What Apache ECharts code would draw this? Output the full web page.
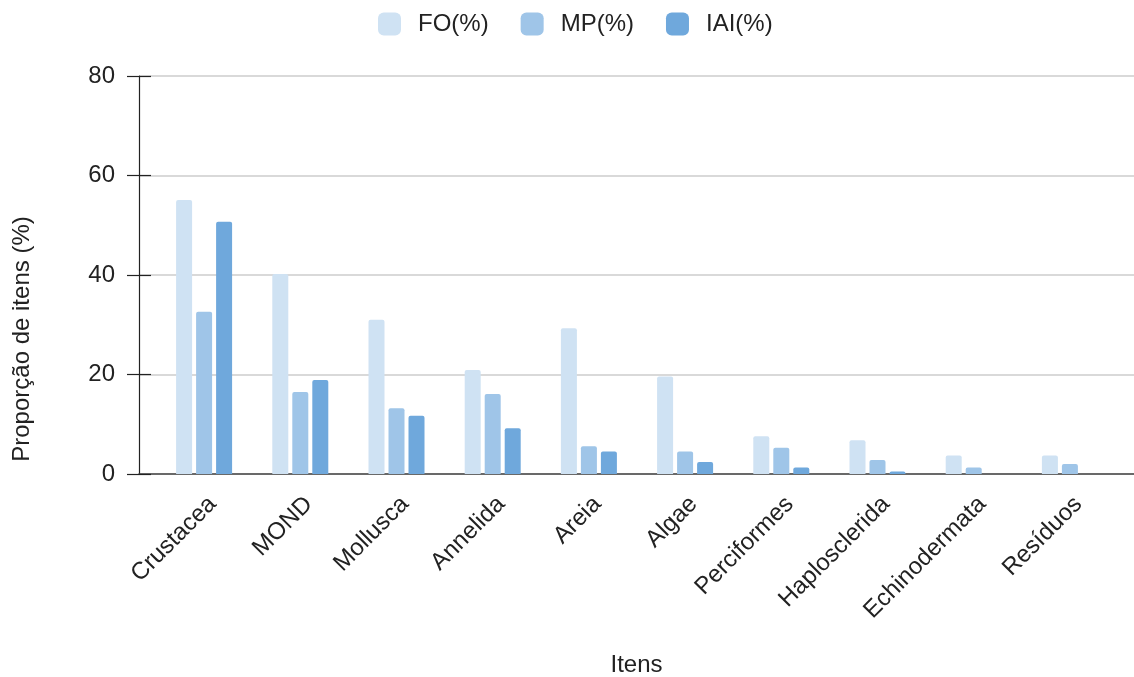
<!DOCTYPE html>
<html>
<head>
<meta charset="utf-8">
<style>
  html, body { margin: 0; padding: 0; background: #fff; }
  #chart { width: 1134px; height: 677px; }
</style>
<script src="https://cdn.jsdelivr.net/npm/echarts@6/dist/echarts.min.js"></script>
</head>
<body>
<div id="chart"></div>
<script>
// Diet items and their indices (%)
const categories = ['Crustacea', 'MOND', 'Mollusca', 'Annelida', 'Areia', 'Algae',
  'Perciformes', 'Haplosclerida', 'Echinodermata', 'Resíduos'];
const foValues  = [55.1, 40.2, 31.0, 20.9, 29.3, 19.6, 7.6, 6.8, 3.7, 3.7];
const mpValues  = [32.6, 16.5, 13.2, 16.1, 5.6, 4.5, 5.3, 2.8, 1.3, 2.0];
const iaiValues = [50.7, 18.9, 11.7, 9.2, 4.5, 2.4, 1.3, 0.5, 0, 0];
const seriesNames = ['FO(%)', 'MP(%)', 'IAI(%)'];
const yTicks = [0, 20, 40, 60, 80];

const colors = ['#cfe2f3', '#9fc5e8', '#6fa8dc'];
const FONT = '"Liberation Sans", Arial, sans-serif';
const FS = 24;
const TEXT = '#222';

const chart = echarts.init(document.getElementById('chart'), null, { renderer: 'canvas' });

const yMin = yTicks[0], yMax = yTicks[yTicks.length - 1], yStep = yTicks[1] - yTicks[0];

const seriesData = [foValues, mpValues, iaiValues];

chart.setOption({
  animation: false,
  backgroundColor: '#fff',
  color: colors,
  legend: {
    data: seriesNames,
    top: 12,
    left: 378,
    padding: 0,
    itemWidth: 23,
    itemHeight: 23,
    itemGap: 32,
    icon: 'roundRect',
    textStyle: { fontFamily: FONT, fontSize: FS, color: TEXT, padding: [0, 0, 0, 12] }
  },
  grid: [
    // frame: y axis, gridlines, baseline
    { left: 139, right: 0, top: 76, bottom: 203, containLabel: false, outerBoundsMode: 'none' },
    // bars and category labels
    { left: 156, right: 16, top: 76, bottom: 203, containLabel: false, outerBoundsMode: 'none' }
  ],
  xAxis: [
    {
      gridIndex: 0, type: 'value', min: 0, max: 1,
      axisLine: { show: true, lineStyle: { color: '#444', width: 1.5 } },
      axisTick: { show: false }, axisLabel: { show: false }, splitLine: { show: false },
      name: 'Itens', nameLocation: 'middle', nameGap: 179,
      nameTextStyle: { fontFamily: FONT, fontSize: FS, color: TEXT }
    },
    {
      gridIndex: 1, type: 'category', data: categories,
      axisLine: { show: false }, axisTick: { show: false },
      axisLabel: {
        rotate: 45, margin: 18, verticalAlign: 'top',
        fontFamily: FONT, fontSize: FS, color: TEXT, interval: 0
      }
    }
  ],
  yAxis: [
    {
      gridIndex: 0, type: 'value', min: yMin, max: yMax, interval: yStep,
      axisLine: { show: true, lineStyle: { color: '#222', width: 1.2 } },
      axisTick: { show: true, length: 12, lineStyle: { color: '#222', width: 1.2 } },
      axisLabel: { margin: 24, fontFamily: FONT, fontSize: FS, color: TEXT },
      splitLine: { show: true, lineStyle: { color: '#cccccc', width: 1.5 } }
    },
    {
      // inner half of the crossing ticks
      gridIndex: 0, type: 'value', min: yMin, max: yMax, interval: yStep, position: 'left',
      axisLine: { show: false },
      axisTick: { show: true, inside: true, length: 12, lineStyle: { color: '#222', width: 1.2 } },
      axisLabel: { show: false }, splitLine: { show: false }
    },
    {
      gridIndex: 1, type: 'value', min: yMin, max: yMax, interval: yStep, show: false
    }
  ],
  graphic: [{
    type: 'text',
    x: 22, y: 339,
    rotation: Math.PI / 2,
    style: {
      text: 'Proporção de itens (%)',
      fontFamily: FONT, fontSize: FS, fill: TEXT,
      align: 'center', verticalAlign: 'middle'
    }
  }],
  series: seriesNames.map((name, i) => ({
    name,
    type: 'bar',
    xAxisIndex: 1,
    yAxisIndex: 2,
    data: seriesData[i],
    barWidth: 16,
    barGap: '25%',
    itemStyle: { color: colors[i], borderRadius: [2, 2, 0, 0] }
  }))
});
</script>
</body>
</html>
